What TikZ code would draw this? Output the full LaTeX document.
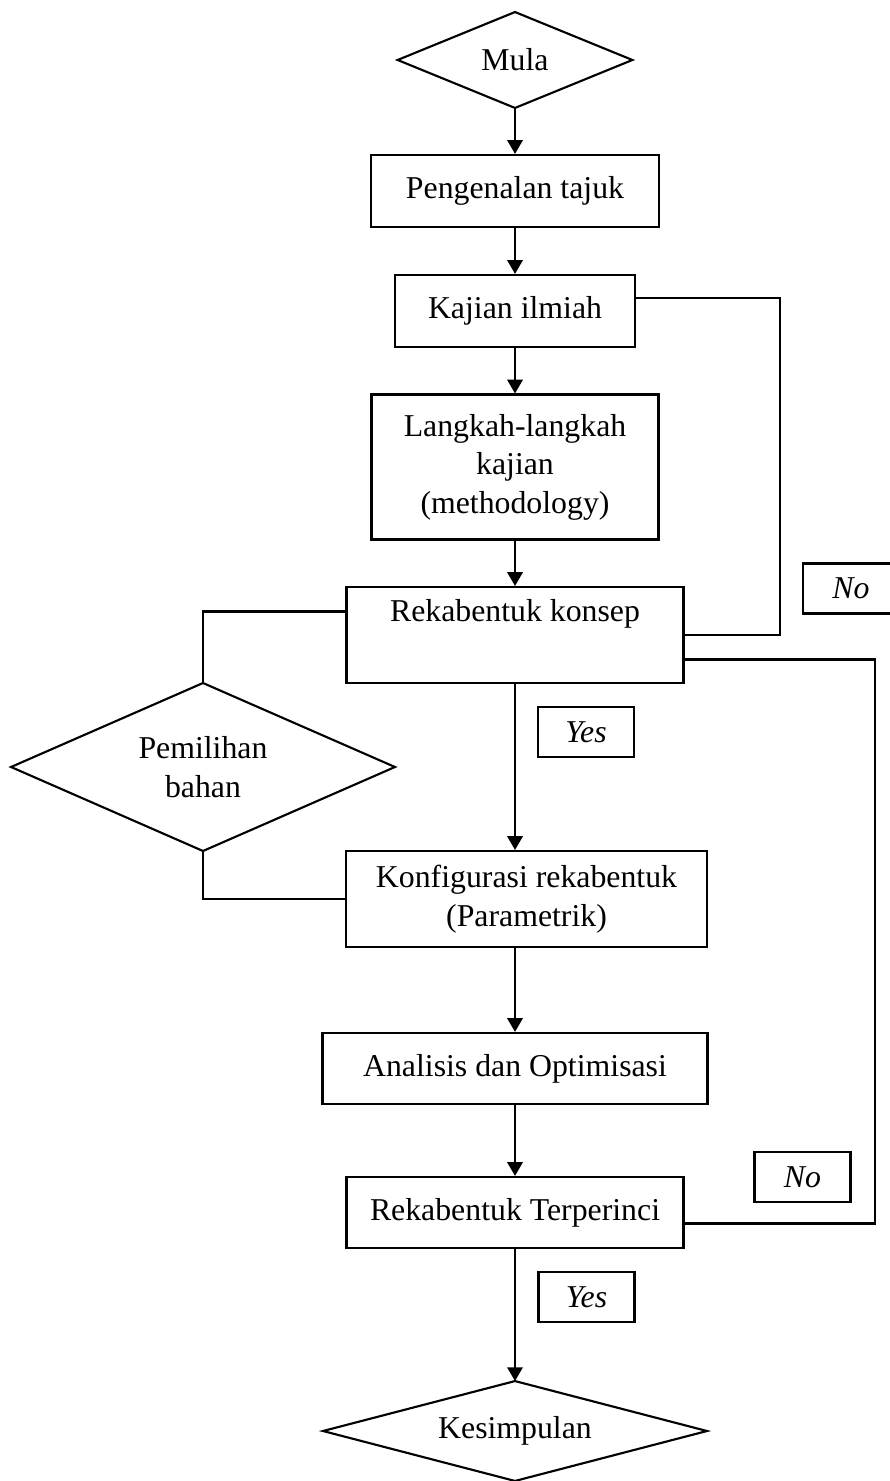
\documentclass[tikz,border=0pt]{standalone}
\usepackage{fontspec}
\setmainfont{Liberation Serif}
\usetikzlibrary{arrows.meta,calc,positioning,shapes.geometric}
\tikzset{
  >={Triangle[length=5.2pt,width=5.8pt]},
  ftext/.style={font=\fontsize{12pt}{14.5pt}\selectfont},
  fbox/.style={ftext, rectangle, draw=black, line width=0.8pt, align=center, inner sep=2pt},
  fdec/.style={ftext, diamond, draw=black, line width=0.8pt, align=center, inner sep=0pt, outer sep=0pt},
  fans/.style={rectangle, draw=black, line width=0.8pt, font=\fontsize{12pt}{14.5pt}\selectfont\itshape,
               minimum width=36.2pt, minimum height=18.9pt, inner sep=0pt},
  fflow/.style={->, line width=0.8pt},
  floop/.style={line width=0.8pt},
}
\begin{document}
\begin{tikzpicture}[x=0.3774pt, y=-0.3774pt]
  \useasboundingbox (0,0) rectangle (889,1481);

  % main column
  \node[fdec, aspect=2.45, minimum width=88.6pt, minimum height=36.2pt] (mula) at (515,60) {Mula};
  \node[fbox, minimum width=108.7pt, minimum height=27.2pt] (tajuk) at (515,191) {Pengenalan tajuk};
  \node[fbox, minimum width=90.6pt, minimum height=27.2pt] (kajian) at (515,311) {Kajian ilmiah};
  \node[fbox, minimum width=108.3pt, minimum height=54.7pt] (langkah) at (515,467)
       {Langkah-langkah\\kajian\\(methodology)};
  \node[fbox, minimum width=127.2pt, minimum height=36.2pt] (konsep) at (515,635)
       {Rekabentuk konsep\\\strut};
  \node[fbox, minimum width=136.2pt, minimum height=36.2pt] (konfig) at (526.5,899)
       {Konfigurasi rekabentuk\\(Parametrik)};
  \node[fbox, minimum width=145.3pt, minimum height=26.8pt] (analisis) at (515,1068.5)
       {Analisis dan Optimisasi};
  \node[fbox, minimum width=127.2pt, minimum height=26.8pt] (terperinci) at (515,1212.5)
       {Rekabentuk Terperinci};
  \node[fdec, aspect=3.84, minimum width=144.9pt, minimum height=37.7pt] (kesimpulan) at (515,1431) {Kesimpulan};

  % side decision
  \node[fdec, aspect=2.29, minimum width=144.9pt, minimum height=63.4pt] (bahan) at (203,767) {Pemilihan\\bahan};

  % yes / no labels
  \node[fans] (yes1) at (586,732) {Yes};
  \node[fans] (yes2) at (586.5,1297) {Yes};
  \node[fans] (no1) at (851,588.5) {No};
  \node[fans] (no2) at (802.5,1177) {No};

  % flow
  \draw[fflow] (mula) -- (tajuk);
  \draw[fflow] (tajuk) -- (kajian);
  \draw[fflow] (kajian) -- (langkah);
  \draw[fflow] (langkah) -- (konsep);
  \draw[fflow] (konsep.south) -- (konsep.south |- konfig.north);
  \draw[fflow] (analisis.north |- konfig.south) -- (analisis.north);
  \draw[fflow] (analisis) -- (terperinci);
  \draw[fflow] (terperinci) -- (kesimpulan);

  % loops
  \draw[floop] ($(kajian.north east)!0.33!(kajian.south east)$) -- ++(144,0) |- (konsep.east);
  \draw[floop] ($(konsep.north east)!0.75!(konsep.south east)$) -- ++(190,0)
               |- ($(terperinci.north east)!0.65!(terperinci.south east)$);
  \draw[floop] ($(konsep.north west)!0.26!(konsep.south west)$) -| (bahan.north);
  \draw[floop] (bahan.south) |- (konfig.west);

\end{tikzpicture}
\end{document}
